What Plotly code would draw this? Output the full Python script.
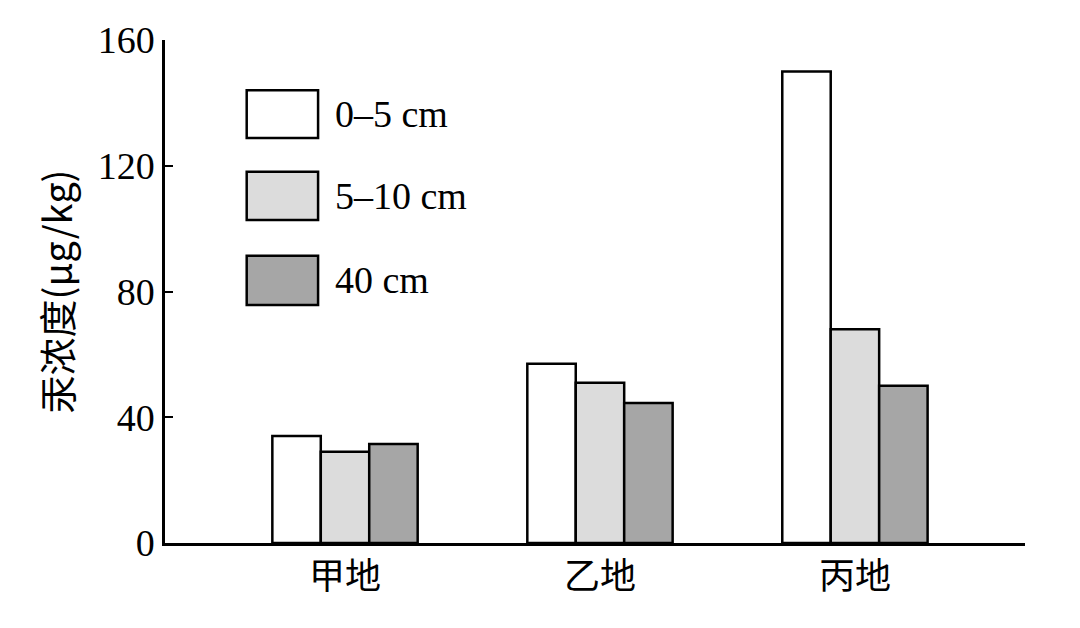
import plotly.graph_objects as go

categories = ["甲地", "乙地", "丙地"]
series_names = ["0–5 cm", "5–10 cm", "40 cm"]
v_0_5 = [34, 57, 150]
v_5_10 = [29, 51, 68]
v_40 = [31.5, 44.5, 50]
colors = ["#ffffff", "#dcdcdc", "#a6a6a6"]
y_ticks = [0, 40, 80, 120, 160]

fig = go.Figure()
for name, vals, c in zip(series_names, [v_0_5, v_5_10, v_40], colors):
    fig.add_bar(x=[0, 1, 2], y=vals, name=name, marker=dict(color=c, line=dict(color="black", width=2.5)),
                showlegend=False)

serif = "Liberation Serif, Noto Sans CJK SC"
fig.update_layout(
    width=1080, height=628, margin=dict(l=157, r=63, t=32, b=93),
    plot_bgcolor="white", paper_bgcolor="white",
    barmode="group", bargap=0.43, bargroupgap=0,
    xaxis=dict(range=[-0.706, 2.667], tickvals=[0, 1, 2], ticktext=categories, showline=True,
               linecolor="black", linewidth=2.5, ticks="", showgrid=False, zeroline=False,
               tickfont=dict(family="Noto Sans CJK SC", size=36, color="black")),
    yaxis=dict(range=[0, 160], tickvals=y_ticks, showline=True, linecolor="black", linewidth=2.5,
               ticks="inside", ticklen=8, tickwidth=2, tickcolor="black", showgrid=False, zeroline=False,
               tickfont=dict(family=serif, size=38, color="black"),
               title=dict(text="汞浓度(μg/kg)", font=dict(family="Noto Sans CJK SC", size=38, color="black"),
                          standoff=14)),
)
boxes = [(0.900, 0.805), (0.738, 0.642), (0.571, 0.473)]
for (y1, y0), c, name in zip(boxes, colors, series_names):
    fig.add_shape(type="rect", xref="paper", yref="paper", x0=0.095, x1=0.178, y0=y0, y1=y1,
                  fillcolor=c, line=dict(color="black", width=2.5))
    fig.add_annotation(xref="paper", yref="paper", x=0.195, y=(y0 + y1) / 2, text=name, showarrow=False,
                       xanchor="left", yanchor="middle", font=dict(family=serif, size=38, color="black"))
fig.write_html("out.html")
